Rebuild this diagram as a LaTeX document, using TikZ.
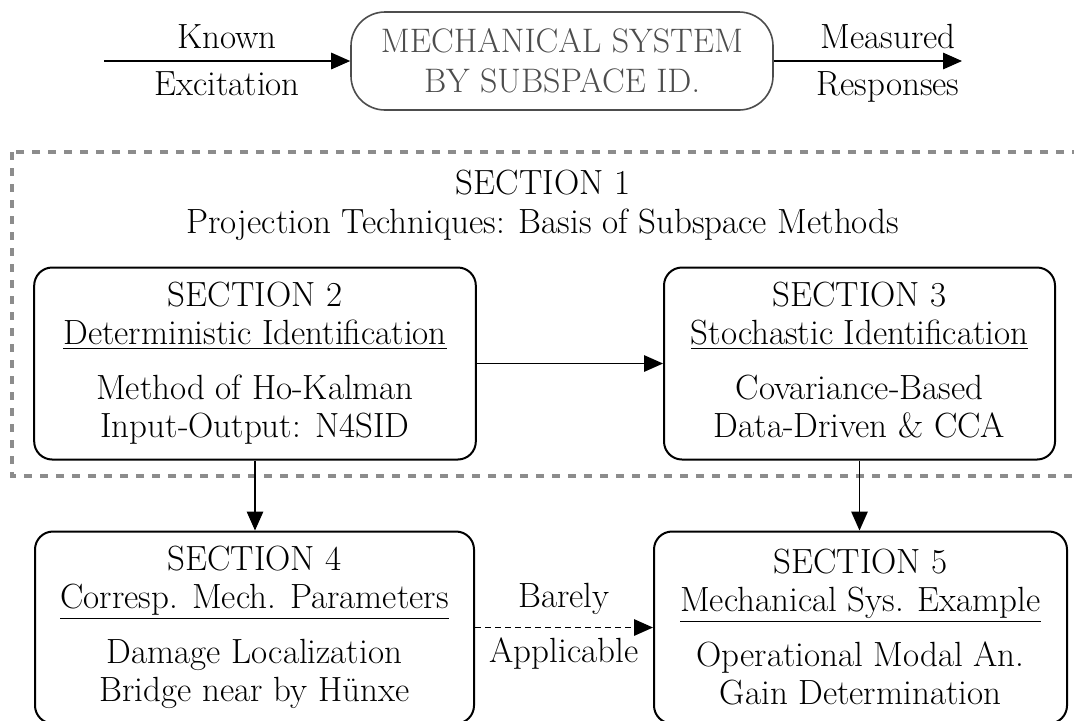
\documentclass[tikz,border=0pt]{standalone}
\usepackage{fontspec}
\usetikzlibrary{arrows.meta}
\definecolor{framegray}{HTML}{8C8C8C}
\definecolor{sysgray}{HTML}{4D4D4D}
\begin{document}
\begin{tikzpicture}[x=0.5pt,y=-0.5pt,
  txt/.style={font=\fontsize{17.5}{19}\selectfont, inner sep=0pt},
  secbox/.style={draw, line width=1pt, rounded corners=9pt, minimum height=96pt,
    align=center, font=\fontsize{17.5}{19}\selectfont, inner sep=0pt},
  topbox/.style={draw=sysgray, text=sysgray, line width=0.8pt, rounded corners=17pt,
    minimum width=211pt, minimum height=49pt, align=center,
    font=\fontsize{17}{20}\selectfont, inner sep=0pt},
  arr/.style={line width=0.7pt, -{Triangle[length=9.5pt,width=8.25pt]}},
  darr/.style={arr, dash pattern=on 3pt off 2pt},
  framebox/.style={draw=framegray, line width=1.6pt, dash pattern=on 4pt off 4pt}
]
\useasboundingbox (0,0) rectangle (1074,720);
\clip (0,0) rectangle (1074,720);
\fill[white] (0,0) rectangle (1074,720);

% top row
\node[topbox] (sys) at (562,61) {MECHANICAL SYSTEM\\BY SUBSPACE ID.};
\coordinate (in) at (104,61);
\coordinate (out) at (962,61);
\draw[arr] (in) -- (sys.west);
\draw[arr] (sys.east) -- (out);
\node[txt, anchor=base] (known) at (227,48) {Known};
\node[txt, anchor=base] (excit) at (227,95) {Excitation};
\node[txt, anchor=base] (meas) at (888,48) {Measured};
\node[txt, anchor=base] (resp) at (888,95) {Responses};

% dashed frame
\draw[framebox] (12,152) rectangle (1110,476);
\node[txt, align=center, font=\fontsize{17.5}{19.5}\selectfont] (s1) at (543,205)
  {SECTION 1\\Projection Techniques: Basis of Subspace Methods};

% section boxes
\node[secbox, minimum width=220.8pt] (s2) at (255,363.5)
  {SECTION 2\\\underline{Deterministic Identification}\\[8.5pt]Method of Ho-Kalman\\Input-Output: N4SID};
\node[secbox, minimum width=195.5pt] (s3) at (859.5,363.5)
  {SECTION 3\\\underline{Stochastic Identification}\\[8.5pt]Covariance-Based\\Data-Driven \& CCA\vphantom{p}};
\node[secbox, minimum width=219.5pt] (s4) at (254.5,627.5)
  {SECTION 4\\\underline{Corresp. Mech. Parameters}\\[8.5pt]Damage Localization\\Bridge near by Hünxe};
\node[secbox, minimum width=206.5pt] (s5) at (860.5,627.5)
  {SECTION 5\\\underline{Mechanical Sys. Example}\\[8.5pt]Operational Modal An.\\Gain Determination};

% connectors
\draw[arr] (s2.east) -- (s3.west);
\draw[arr] (s2.south) -- (s2.south |- s4.north);
\draw[arr] (s3.south) -- (s3.south |- s5.north);
\draw[darr] (s4.east) -- (s5.west);
\node[txt, anchor=base] (barely) at (564,607) {Barely};
\node[txt, anchor=base] (appl) at (564,662) {Applicable};
\end{tikzpicture}
\end{document}
